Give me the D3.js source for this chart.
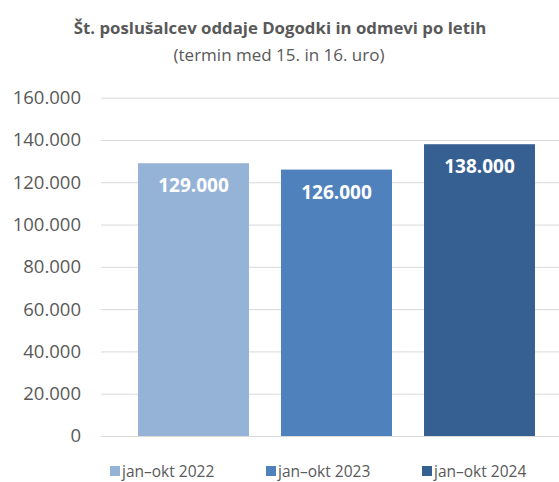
<!DOCTYPE html>
<html><head><meta charset="utf-8">
<script src="https://cdn.jsdelivr.net/npm/d3@7"></script>
<style>body{margin:0;background:#fff}svg{display:block}</style>
</head><body>
<script>
const categories = ["jan–okt 2022", "jan–okt 2023", "jan–okt 2024"];
const values = [129000, 126000, 138000];
const colors = ["#95B3D7", "#4F81BD", "#376092"];
const yTicks = [0, 20000, 40000, 60000, 80000, 100000, 120000, 140000, 160000];
const title = "Št. poslušalcev oddaje Dogodki in odmevi po letih";
const subtitle = "(termin med 15. in 16. uro)";

const W = 559, H = 482;
const font = "'Open Sans', 'Liberation Sans', sans-serif";
const svg = d3.select("body").append("svg").attr("width", W).attr("height", H);
const fmt = v => v === 0 ? "0" : d3.format(",")(v).replace(/,/g, ".");

const y = d3.scaleLinear().domain([0, 160000]).range([436, 97.7]);
const x = d3.scaleBand().domain(categories).range([122, 551]).paddingInner(0.224).paddingOuter(0.112);

svg.append("text").attr("x", 280).attr("y", 34).attr("text-anchor", "middle")
  .attr("font-family", font).attr("font-weight", "bold").attr("font-size", 16.8).attr("fill", "#595959").text(title);
svg.append("text").attr("x", 279).attr("y", 61).attr("text-anchor", "middle")
  .attr("font-family", font).attr("font-size", 17).attr("fill", "#595959").text(subtitle);

const yAxis = d3.axisLeft(y).tickValues(yTicks).tickFormat(fmt).tickSize(-(W - 101)).tickPadding(20);
const gy = svg.append("g").attr("transform", "translate(101,0)").call(yAxis);
gy.select(".domain").remove();
gy.selectAll(".tick line").attr("stroke", "#d9d9d9").attr("stroke-width", 1);
gy.selectAll(".tick text").attr("font-family", font).attr("font-size", 18.5).attr("fill", "#595959");

svg.selectAll("rect.bar").data(values).join("rect").attr("class", "bar")
  .attr("x", (d, i) => x(categories[i])).attr("width", x.bandwidth())
  .attr("y", d => y(d)).attr("height", d => y(0) - y(d))
  .attr("fill", (d, i) => colors[i]);

svg.selectAll("text.val").data(values).join("text").attr("class", "val")
  .attr("x", (d, i) => x(categories[i]) + x.bandwidth() / 2)
  .attr("y", d => y(d) + 29).attr("text-anchor", "middle")
  .attr("font-family", font).attr("font-weight", "bold").attr("font-size", 19).attr("fill", "#fff")
  .text(fmt);

const legendX = [110, 266, 422];
const lg = svg.selectAll("g.leg").data(categories).join("g").attr("class", "leg")
  .attr("transform", (d, i) => `translate(${legendX[i]},466)`);
lg.append("rect").attr("width", 10).attr("height", 10).attr("y", 0).attr("fill", (d, i) => colors[i]);
lg.append("text").attr("x", 12).attr("y", 10.5).attr("font-family", font).attr("font-size", 15.5)
  .attr("fill", "#595959").text(d => d);
</script>
</body></html>
